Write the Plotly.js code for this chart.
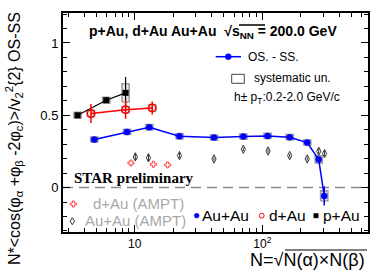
<!DOCTYPE html>
<html><head><meta charset="utf-8">
<script src="https://cdn.plot.ly/plotly-3.0.1.min.js"></script>
<style>body{margin:0;background:#fff}</style>
</head><body><div id="c" style="width:382px;height:274px"></div>
<script>
// ---- data ----
const auauN   = [4.81, 8.69, 13.0, 22.4, 41.8, 71.0, 110, 164, 225, 277, 306];
const auauV   = [0.332, 0.385, 0.417, 0.355, 0.346, 0.353, 0.357, 0.348, 0.311, 0.194, -0.058];
const auauErr = [0.008, 0.008, 0.008, 0.006, 0.006, 0.006, 0.006, 0.006, 0.008, 0.015, 0.065];
const auauSys = [0.018, 0.018, 0.018, 0.018, 0.018, 0.018, 0.018, 0.018, 0.018, 0.025, 0.035];

const dauN   = [4.53, 8.47, 13.7];
const dauV   = [0.512, 0.539, 0.551];
const dauErr = [0.066, 0.064, 0.045];
const dauSys = [0.022, 0.022, 0.022];

const pauN   = [3.56, 5.97, 8.47];
const pauV   = [0.500, 0.604, 0.655];
const pauErr = [0.010, 0.020, 0.110];
const pauSys = [0.02, 0.02, 0.063];

const amptAuN   = [10.1, 12.8, 22.4, 41.8, 71.0, 111, 164, 225, 277, 308];
const amptAuV   = [0.212, 0.206, 0.221, 0.198, 0.265, 0.253, 0.221, 0.198, 0.251, 0.235];
const amptAuErr = [0.025, 0.022, 0.018, 0.012, 0.012, 0.012, 0.012, 0.012, 0.018, 0.018];

const amptDN = [9.33, 14.0, 18.1];
const amptDV = [0.170, 0.161, 0.157];

const xTickVals = [10, 100];
const xTickText = ['10', '10<sup>2</sup>'];
const yTickVals = [0, 0.5, 1];
const yTickText = ['0', '0.5', '1'];

// ---- layout helpers ----
const L = 63, T = 13, W = 305, H = 219;
const px = x => (x - L) / W;
const py = y => (T + H - y) / H;
const F = 'Liberation Sans, Arial, sans-serif';
const halfW = Math.pow(10, 3.6 / 127.5);

function sysBoxes(xs, ys, ss) {
  const X = [], Y = [];
  xs.forEach((x, i) => {
    const a = x / halfW, b = x * halfW, lo = ys[i] - ss[i], hi = ys[i] + ss[i];
    X.push(a, b, b, a, a, null);
    Y.push(lo, lo, hi, hi, lo, null);
  });
  return {x: X, y: Y, mode: 'lines', fill: 'toself', fillcolor: 'rgba(195,195,195,0.35)',
          line: {color: '#a0a0a0', width: 1.6}, hoverinfo: 'skip'};
}

const traces = [
  sysBoxes(auauN, auauV, auauSys),
  sysBoxes(dauN, dauV, dauSys),
  sysBoxes(pauN, pauV, pauSys),
  {x: amptAuN, y: amptAuV, mode: 'markers',
   marker: {symbol: 'diamond-tall-open', size: 6, color: '#333', line: {width: 1}},
   error_y: {type: 'data', array: amptAuErr, color: '#333', thickness: 1, width: 0}},
  {x: amptDN, y: amptDV, mode: 'markers',
   marker: {symbol: 'cross-open', size: 5, color: '#ff4040', line: {width: 1}}},
  {x: pauN, y: pauV, mode: 'lines+markers', line: {color: '#000', width: 1.2},
   marker: {symbol: 'square', size: 6, color: '#000'},
   error_y: {type: 'data', array: pauErr, color: '#000', thickness: 1.2, width: 0}},
  {x: dauN, y: dauV, mode: 'lines+markers', line: {color: '#ff0000', width: 1.5},
   marker: {symbol: 'circle-open', size: 7.5, color: '#ff0000', line: {width: 1.5}},
   error_y: {type: 'data', array: dauErr, color: '#ff0000', thickness: 1.5, width: 0}},
  {x: auauN, y: auauV, mode: 'lines+markers', line: {color: '#0000ff', width: 1.5},
   marker: {symbol: 'circle', size: 6.5, color: '#0000ff'},
   error_y: {type: 'data', array: auauErr, color: '#0000ff', thickness: 1.5, width: 0}}
];

function ann(text, x, y, opts) {
  return Object.assign({text: text, xref: 'paper', yref: 'paper', x: px(x), y: py(y),
    xanchor: 'left', yanchor: 'middle', showarrow: false,
    font: {family: F, size: 12, color: '#000'}}, opts || {});
}
function pathShape(pts, opts) {
  const d = 'M ' + pts.map(p => px(p[0]) + ',' + py(p[1])).join(' L ') + ' Z';
  return Object.assign({type: 'path', xref: 'paper', yref: 'paper', path: d}, opts);
}
function circ(cx, cy, r, opts) {
  return Object.assign({type: 'circle', xref: 'paper', yref: 'paper',
    x0: px(cx - r), x1: px(cx + r), y0: py(cy + r), y1: py(cy - r)}, opts);
}
function seg(x0, y0, x1, y1, opts) {
  return Object.assign({type: 'line', xref: 'paper', yref: 'paper',
    x0: px(x0), x1: px(x1), y0: py(y0), y1: py(y1)}, opts);
}

const crossPts = (cx, cy) => [[cx-1,cy-3],[cx+1,cy-3],[cx+1,cy-1],[cx+3,cy-1],[cx+3,cy+1],[cx+1,cy+1],
  [cx+1,cy+3],[cx-1,cy+3],[cx-1,cy+1],[cx-3,cy+1],[cx-3,cy-1],[cx-1,cy-1]];
const diaPts = (cx, cy) => [[cx, cy-3.5],[cx+2.2, cy],[cx, cy+3.5],[cx-2.2, cy]];

const shapes = [
  {type: 'line', xref: 'paper', x0: 0, x1: 1, yref: 'y', y0: 0, y1: 0, layer: 'below',
   line: {color: '#8a8a8a', width: 1.5, dash: '10px,6px'}},
  // legend keys
  seg(215.7, 56.7, 241, 56.7, {line: {color: '#0000ff', width: 1.5}}),
  circ(228.3, 56.7, 3.0, {fillcolor: '#0000ff', line: {color: '#0000ff', width: 0.5}}),
  {type: 'rect', xref: 'paper', yref: 'paper', x0: px(231.7), x1: px(244.3), y0: py(83.3), y1: py(74.3),
   line: {color: '#444', width: 1}},
  pathShape(crossPts(73.3, 204), {line: {color: '#ff4040', width: 1}}),
  pathShape(diaPts(72.3, 221.2), {line: {color: '#333', width: 1}}),
  circ(196.7, 215.7, 2.4, {fillcolor: '#0000ff', line: {color: '#0000ff', width: 0.5}}),
  circ(261.7, 215.7, 2.4, {line: {color: '#ff0000', width: 1}}),
  {type: 'rect', xref: 'paper', yref: 'paper', x0: px(313.8), x1: px(318.2), y0: py(217.9), y1: py(213.5),
   fillcolor: '#000', line: {color: '#000', width: 0.5}},
  // overlines of square roots
  seg(239, 25, 265, 25, {line: {color: '#000', width: 1.5}}),
  seg(285, 250, 367, 250, {line: {color: '#000', width: 1}})
];

const annotations = [
  ann('<b>p+Au, d+Au Au+Au  √s<sub>NN</sub> = 200.0 GeV</b>', 86.7, 31.7, {font: {family: F, size: 14, color: '#000'}}),
  ann('OS. - SS.', 245.7, 56.7),
  ann('systematic un.', 251.7, 77.7),
  ann('h± p<sub>T</sub>:0.2-2.0 GeV/c', 231.7, 98.3),
  ann('<b>STAR preliminary</b>', 71.7, 178.3, {font: {family: 'Liberation Serif, Times New Roman, serif', size: 15, color: '#000'}}),
  ann('d+Au (AMPT)', 90.7, 203.3, {font: {family: F, size: 15, color: '#a8a8a8'}}),
  ann('Au+Au (AMPT)', 82.7, 220, {font: {family: F, size: 15, color: '#a8a8a8'}}),
  ann('Au+Au', 200, 215.7, {font: {family: F, size: 15.5, color: '#000'}}),
  ann('d+Au', 267.3, 215.7, {font: {family: F, size: 15.5, color: '#000'}}),
  ann('p+Au', 321, 215.7, {font: {family: F, size: 15.5, color: '#000'}}),
  ann('N=√N(α)×N(β)', 367, 260, {xanchor: 'right', font: {family: F, size: 18, color: '#000'}}),
  ann('N*&lt;cos(φ<sub>α</sub> +φ<sub>β</sub> -2φ<sub>c</sub>)&gt;/v<sub>2</sub><sup>2</sup>{2} OS-SS', 14, 139,
      {xanchor: 'center', textangle: -90, font: {family: F, size: 16, color: '#000'}})
];

const minorX = [3,4,5,6,7,8,9,20,30,40,50,60,70,80,90,200,300,400,500,600];

const layout = {
  width: 382, height: 274,
  margin: {l: L, r: 382 - L - W, t: T, b: 274 - T - H},
  paper_bgcolor: '#fff', plot_bgcolor: '#fff', showlegend: false,
  font: {family: F, color: '#000'},
  xaxis: {type: 'log', range: [0.437, 2.829], tickvals: xTickVals, ticktext: xTickText,
    ticks: 'inside', ticklen: 7, tickwidth: 1, tickcolor: '#000',
    showline: true, linewidth: 2, linecolor: '#000', mirror: 'allticks',
    showgrid: false, zeroline: false, tickfont: {family: F, size: 12},
    minor: {tickvals: minorX, ticks: 'inside', ticklen: 4, tickcolor: '#000', tickwidth: 1, showgrid: false}},
  yaxis: {range: [-0.307, 1.207], tickvals: yTickVals, ticktext: yTickText,
    ticks: 'inside', ticklen: 7, tickwidth: 1, tickcolor: '#000',
    showline: true, linewidth: 2, linecolor: '#000', mirror: 'allticks',
    showgrid: false, zeroline: false, tickfont: {family: F, size: 13},
    minor: {dtick: 0.1, ticks: 'inside', ticklen: 4, tickcolor: '#000', tickwidth: 1, showgrid: false}},
  shapes: shapes,
  annotations: annotations
};

Plotly.newPlot('c', traces, layout, {displayModeBar: false});
</script>
</body></html>
